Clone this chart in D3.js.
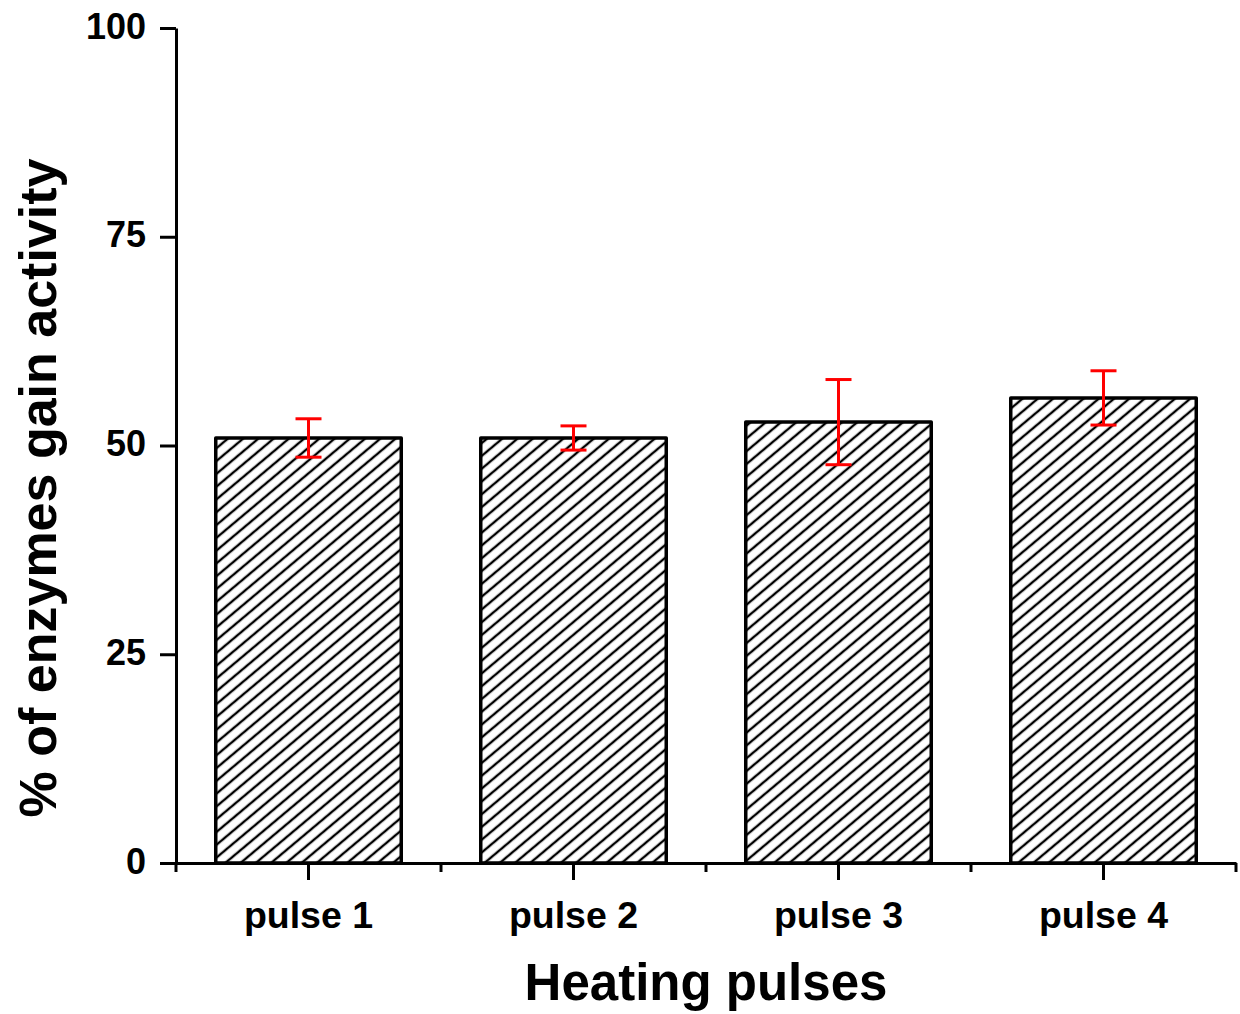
<!DOCTYPE html>
<html>
<head>
<meta charset="utf-8">
<script src="https://cdn.jsdelivr.net/npm/d3@7"></script>
<style>
  body { margin: 0; background: #fff; }
  svg { display: block; }
  text { font-family: "Liberation Sans", Arial, sans-serif; font-weight: bold; fill: #000; }
</style>
</head>
<body>
<div id="vis"></div>
<script>
// Data
const CATEGORIES = ["pulse 1", "pulse 2", "pulse 3", "pulse 4"];
const VALUES = [50.9, 50.9, 52.8, 55.7];
const ERRORS = [2.3, 1.45, 5.1, 3.25];
const Y_TICKS = [0, 25, 50, 75, 100];

const FRAME_WIDTH = 1240;
const FRAME_HEIGHT = 1014;
const MARGINS = {left: 176, right: 4, top: 28, bottom: 151};
const VIS_WIDTH = FRAME_WIDTH - MARGINS.left - MARGINS.right;
const VIS_HEIGHT = FRAME_HEIGHT - MARGINS.top - MARGINS.bottom;

const svg = d3.select("#vis")
              .append("svg")
              .attr("width", FRAME_WIDTH)
              .attr("height", FRAME_HEIGHT);

// hatch pattern for the bars
const HATCH = 9.8;
const defs = svg.append("defs");
defs.append("pattern")
    .attr("id", "hatch")
    .attr("patternUnits", "userSpaceOnUse")
    .attr("width", HATCH)
    .attr("height", HATCH)
    .attr("patternTransform", "rotate(50)")
  .append("line")
    .attr("x1", HATCH / 2).attr("y1", 0)
    .attr("x2", HATCH / 2).attr("y2", HATCH)
    .attr("stroke", "#000")
    .attr("stroke-width", 2.4);

const frame = svg.append("g")
                 .attr("transform", "translate(" + MARGINS.left + "," + MARGINS.top + ")");

const X_SCALE = d3.scaleBand()
                  .domain(CATEGORIES)
                  .range([0, VIS_WIDTH])
                  .paddingInner(0.3)
                  .paddingOuter(0.15);

const Y_SCALE = d3.scaleLinear()
                  .domain([0, 100])
                  .range([VIS_HEIGHT, 0]);

// bars
frame.append("g").selectAll("rect")
     .data(CATEGORIES)
     .enter()
     .append("rect")
       .attr("x", (d) => X_SCALE(d))
       .attr("y", (d, i) => Y_SCALE(VALUES[i]))
       .attr("width", X_SCALE.bandwidth())
       .attr("height", (d, i) => VIS_HEIGHT - Y_SCALE(VALUES[i]))
       .attr("fill", "url(#hatch)")
       .attr("stroke", "#000")
       .attr("stroke-width", 3.5)
       .attr("stroke-linejoin", "round");

// error bars
const CAP = 13;
const err = frame.append("g")
                 .attr("stroke", "#ff0000")
                 .attr("stroke-width", 3);
CATEGORIES.forEach((c, i) => {
  const cx = X_SCALE(c) + X_SCALE.bandwidth() / 2;
  const yTop = Y_SCALE(VALUES[i] + ERRORS[i]);
  const yBot = Y_SCALE(VALUES[i] - ERRORS[i]);
  err.append("line").attr("x1", cx).attr("x2", cx).attr("y1", yTop).attr("y2", yBot);
  err.append("line").attr("x1", cx - CAP).attr("x2", cx + CAP).attr("y1", yTop).attr("y2", yTop);
  err.append("line").attr("x1", cx - CAP).attr("x2", cx + CAP).attr("y1", yBot).attr("y2", yBot);
});

// minor x ticks at band boundaries
const boundaries = d3.range(CATEGORIES.length + 1).map((i) => X_SCALE.range()[0] + i * X_SCALE.step());
frame.append("g").selectAll("line")
     .data(boundaries)
     .enter()
     .append("line")
       .attr("x1", (d) => d).attr("x2", (d) => d)
       .attr("y1", VIS_HEIGHT).attr("y2", VIS_HEIGHT + 9)
       .attr("stroke", "#000")
       .attr("stroke-width", 3);

// X axis
const xAxis = frame.append("g")
     .attr("transform", "translate(0," + VIS_HEIGHT + ")")
     .call(d3.axisBottom(X_SCALE).tickSize(17).tickSizeOuter(0).tickPadding(21));
xAxis.selectAll("text").attr("font-size", "37.5px").attr("font-family", null);
xAxis.selectAll("line, path").attr("stroke-width", 3);

// Y axis
const yAxis = frame.append("g")
     .call(d3.axisLeft(Y_SCALE).tickValues(Y_TICKS).tickSize(16).tickSizeOuter(0).tickPadding(14));
yAxis.selectAll("text").attr("font-size", "36px").attr("font-family", null).attr("dy", "0.28em");
yAxis.selectAll("line, path").attr("stroke-width", 3);

// axis titles
svg.append("text")
   .attr("x", MARGINS.left + VIS_WIDTH / 2)
   .attr("y", 1000)
   .attr("text-anchor", "middle")
   .attr("font-size", "51px")
   .text("Heating pulses");

svg.append("text")
   .attr("transform", "translate(56," + 488 + ") rotate(-90)")
   .attr("text-anchor", "middle")
   .attr("font-size", "52px")
   .text("% of enzymes gain activity");
</script>
</body>
</html>
